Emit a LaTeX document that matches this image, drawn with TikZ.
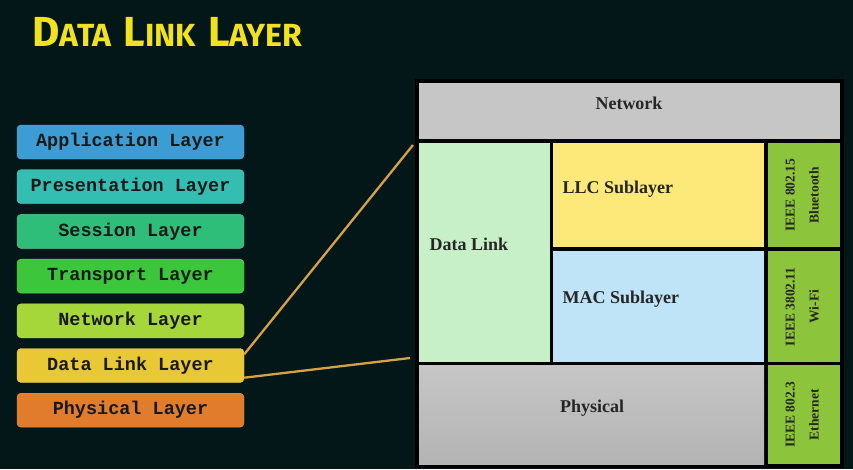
\documentclass[tikz,border=0pt]{standalone}
\usepackage{fontspec}
\setmainfont{Liberation Serif}
\newfontfamily\layerfont{Liberation Mono}
\newfontfamily\titlefont{Fira Sans}
\usetikzlibrary{positioning}

\definecolor{bgdark}{RGB}{3,22,24}
\definecolor{titleyellow}{RGB}{240,226,30}
\definecolor{appblue}{RGB}{60,157,212}
\definecolor{presteal}{RGB}{52,190,178}
\definecolor{sessgreen}{RGB}{47,190,122}
\definecolor{transgreen}{RGB}{60,198,60}
\definecolor{netlime}{RGB}{165,214,58}
\definecolor{dlyellow}{RGB}{232,200,52}
\definecolor{phyorange}{RGB}{224,124,44}
\definecolor{linkorange}{RGB}{214,160,70}
\definecolor{cellgray}{RGB}{198,198,198}
\definecolor{cellgraydark}{RGB}{180,180,180}
\definecolor{cellmint}{RGB}{200,240,200}
\definecolor{cellyellow}{RGB}{253,233,122}
\definecolor{cellblue}{RGB}{191,227,247}
\definecolor{cellgreen}{RGB}{140,196,60}

\newcommand{\tcap}[2]{{\fontsize{42}{42}\selectfont #1}{\fontsize{32}{32}\selectfont #2}}

\tikzstyle{layer}=[rectangle, rounded corners=4pt, minimum width=227pt,
  minimum height=34pt, inner sep=0pt, text=black!90,
  font=\layerfont\bfseries\fontsize{18.5}{20}\selectfont]
\tikzstyle{cell}=[rectangle, inner sep=0pt, anchor=north west]
\tikzstyle{celltext}=[font=\bfseries\fontsize{18}{20}\selectfont, text=black!85]
\tikzstyle{ieee}=[font=\bfseries\fontsize{13.5}{24}\selectfont, text=black!85,
  rotate=90, align=center]
\tikzstyle{link}=[linkorange, line width=2.3pt]

\begin{document}
\begin{tikzpicture}[x=1pt, y=-1pt, node distance=10.3pt]
          \fill[bgdark] (0,0) rectangle (853,469);
          \useasboundingbox (0,0) rectangle (853,469);

          \node[font=\titlefont\bfseries, text=titleyellow, anchor=west] (title) at (29,32)
            {\tcap{D}{ATA}\hspace{12pt}\tcap{L}{INK}\hspace{12pt}\tcap{L}{AYER}};

          % OSI stack
          \node[layer, fill=appblue, draw=appblue!80!white] (app) at (130.5,142)
            {Application Layer};
          \node[layer, fill=presteal, draw=presteal!80!white, below=of app] (pres)
            {Presentation Layer};
          \node[layer, fill=sessgreen, draw=sessgreen!80!white, below=of pres] (sess)
            {Session Layer};
          \node[layer, fill=transgreen, draw=transgreen!80!white, below=of sess] (trans)
            {Transport Layer};
          \node[layer, fill=netlime, draw=netlime!80!white, below=of trans] (net)
            {Network Layer};
          \node[layer, fill=dlyellow, draw=dlyellow!80!white, below=of net] (dll)
            {Data Link Layer};
          \node[layer, fill=phyorange, draw=phyorange!80!white, below=of dll] (phy)
            {Physical Layer};

          % zoomed data link layer
          \fill[black] (415,79) rectangle (844,468);
          \node[cell, fill=cellgray, minimum width=421pt, minimum height=56pt]
            (netcell) at (419,83) {};
          \node[cell, fill=cellmint, minimum width=131pt, minimum height=219pt]
            (dlcell) at (419,143) {};
          \node[cell, fill=cellyellow, minimum width=211pt, minimum height=104pt]
            (llccell) at (553,143) {};
          \node[cell, fill=cellblue, minimum width=211pt, minimum height=111pt]
            (maccell) at (553,251) {};
          \node[cell, top color=cellgray, bottom color=cellgraydark,
            minimum width=345pt, minimum height=99pt] (phycell) at (419,365) {};
          \node[cell, fill=cellgreen, minimum width=72pt, minimum height=104pt]
            (btcell) at (768,143) {};
          \node[cell, fill=cellgreen, minimum width=72pt, minimum height=111pt]
            (wificell) at (768,251) {};
          \node[cell, fill=cellgreen, minimum width=72pt, minimum height=99pt]
            (ethcell) at (768,365) {};

          \node[celltext] (nettext) at (629,103) {Network};
          \node[celltext, anchor=west] (dltext) at (426,244) {Data Link};
          \node[celltext, anchor=west] (llctext) at (559,189) {LLC Sublayer};
          \node[celltext, anchor=west] (mactext) at (559,299) {MAC Sublayer};
          \node[celltext] (phytext) at (592,408) {Physical};
          \node[ieee] (bttext) at ([xshift=-2pt]btcell.center) {IEEE 802.15\\Bluetooth};
          \node[ieee] (wifitext) at ([xshift=-2pt]wificell.center) {IEEE 3802.11\\Wi-Fi};
          \node[ieee] (ethtext) at ([xshift=-2pt]ethcell.center) {IEEE 802.3\\Ethernet};

          % connectors
          \coordinate (zoomtop) at (413,145);
          \coordinate (zoombot) at (410,358);
          \draw[link] ([yshift=-6pt]dll.north east) -- (zoomtop);
          \draw[link] ([yshift=5pt]dll.south east) -- (zoombot);
        \end{tikzpicture}
\end{document}
